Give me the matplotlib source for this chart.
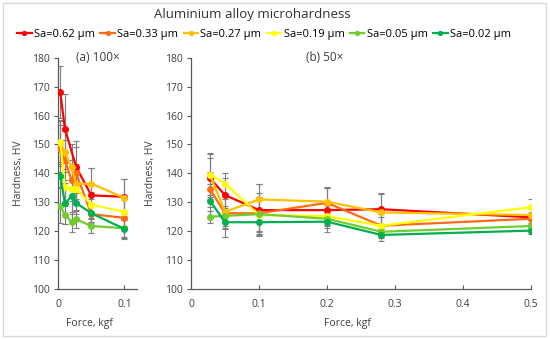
import matplotlib.pyplot as plt
from matplotlib.patches import Rectangle

# series labels and colours
labels = ['Sa=0.62 μm', 'Sa=0.33 μm', 'Sa=0.27 μm', 'Sa=0.19 μm', 'Sa=0.05 μm', 'Sa=0.02 μm']
colors = ['#FF0000', '#FF6A13', '#FFC000', '#FFFF00', '#70CC30', '#00B050']

# (a) 100x
force_a = [0.003, 0.01, 0.02, 0.027, 0.05, 0.1]
force_a_red = [0.003, 0.01, 0.027, 0.05, 0.1]
hv_a_062 = [168.0, 155.5, 142.2, 132.4, 131.9]
hv_a_033 = [148.6, 144.6, 137.6, 140.0, 125.9, 124.6]
hv_a_027 = [150.5, 147.5, 142.1, 136.3, 136.5, 131.5]
hv_a_019 = [151.0, 135.4, 134.5, 134.5, 129.2, 126.7]
hv_a_005 = [128.8, 125.6, 123.3, 124.1, 121.8, 121.0]
hv_a_002 = [139.2, 129.6, 132.1, 129.8, 126.2, 120.8]
err_a_062 = [9.0, 12.0, 9.0, 9.5, 6.0]
err_a_033 = [8.0, 7.0, 7.0, 9.0, 4.0, 7.0]
err_a_027 = [8.0, 7.0, 8.0, 7.0, 5.5, 6.5]
err_a_019 = [7.0, 6.0, 8.0, 7.0, 4.5, 5.0]
err_a_005 = [6.0, 3.0, 3.5, 3.0, 2.5, 3.0]
err_a_002 = [4.0, 7.0, 6.0, 4.0, 3.0, 3.5]

# (b) 50x
force_b = [0.028, 0.05, 0.1, 0.2, 0.28, 0.5]
hv_b_062 = [138.3, 132.5, 127.3, 127.3, 127.6, 124.8]
hv_b_033 = [134.5, 126.2, 126.2, 129.8, 121.9, 124.3]
hv_b_027 = [139.4, 126.7, 131.0, 130.2, 126.5, 125.6]
hv_b_019 = [139.6, 136.5, 125.6, 125.2, 121.9, 128.3]
hv_b_005 = [125.0, 125.3, 125.9, 124.3, 119.8, 121.8]
hv_b_002 = [130.5, 123.1, 123.1, 123.3, 118.7, 120.2]
err_b_062 = [7.0, 6.0, 9.0, 7.5, 5.5, 3.0]
err_b_033 = [6.0, 5.0, 7.0, 5.0, 4.0, 2.5]
err_b_027 = [7.5, 6.0, 5.5, 5.0, 6.5, 3.0]
err_b_019 = [7.0, 3.5, 6.0, 4.0, 3.0, 3.0]
err_b_005 = [2.0, 3.5, 6.0, 2.0, 2.0, 1.0]
err_b_002 = [6.0, 5.0, 4.5, 1.5, 2.0, 1.0]

fa = [force_a_red, force_a, force_a, force_a, force_a, force_a]
ya = [hv_a_062, hv_a_033, hv_a_027, hv_a_019, hv_a_005, hv_a_002]
ea = [err_a_062, err_a_033, err_a_027, err_a_019, err_a_005, err_a_002]
yb = [hv_b_062, hv_b_033, hv_b_027, hv_b_019, hv_b_005, hv_b_002]
eb = [err_b_062, err_b_033, err_b_027, err_b_019, err_b_005, err_b_002]

plt.rcParams['font.family'] = ['Open Sans', 'DejaVu Sans']
fig = plt.figure(figsize=(5.5, 3.39), dpi=100)
fig.patches.append(Rectangle((0.006, 0.009), 0.987, 0.982, transform=fig.transFigure,
                             fill=False, edgecolor='#D9D9D9', linewidth=1))

ax1 = fig.add_axes([0.106, 0.1475, 0.143, 0.682])
ax2 = fig.add_axes([0.3473, 0.1475, 0.618, 0.682])

handles = []
for i in range(6):
    ax1.errorbar(fa[i], ya[i], yerr=ea[i], fmt='none', ecolor='#7F7F7F',
                 elinewidth=0.8, capsize=2, capthick=0.8, zorder=2)
    ax2.errorbar(force_b, yb[i], yerr=eb[i], fmt='none', ecolor='#7F7F7F',
                 elinewidth=0.8, capsize=2, capthick=0.8, zorder=2)
for i in range(6):
    h, = ax1.plot(fa[i], ya[i], '-o', color=colors[i], lw=1.6, ms=4, label=labels[i], zorder=3)
    ax2.plot(force_b, yb[i], '-o', color=colors[i], lw=1.6, ms=4, zorder=3)
    handles.append(h)

for ax in (ax1, ax2):
    ax.set_ylim(100, 180)
    ax.set_yticks(range(100, 181, 10))
    for s in ('top', 'right'):
        ax.spines[s].set_visible(False)
    for s in ('left', 'bottom'):
        ax.spines[s].set_color('#595959')
        ax.spines[s].set_linewidth(0.9)
    ax.tick_params(axis='y', direction='out', length=3, width=0.8, color='#595959',
                   labelsize=7.5, pad=3, labelcolor='#404040')
    ax.tick_params(axis='x', direction='in', length=3, width=0.8, color='#595959',
                   labelsize=7.5, pad=7, labelcolor='#404040')
    ax.set_ylabel('Hardness, HV', fontsize=7.5, color='#404040', labelpad=6)
    ax.set_xlabel('Force, kgf', fontsize=7.5, color='#404040')

ax1.set_xlim(0, 0.119)
ax1.set_xticks([0, 0.1])
ax1.set_xticklabels(['0', '0.1'])
ax2.set_xlim(0, 0.5)
ax2.set_xticks([0, 0.1, 0.2, 0.3, 0.4, 0.5])
ax2.set_xticklabels(['0', '0.1', '0.2', '0.3', '0.4', '0.5'])
ax1.xaxis.set_label_coords(0.40, -0.125)
ax2.xaxis.set_label_coords(0.46, -0.125)

ax1.text(0.5, 1.0, '(a) 100×', transform=ax1.transAxes, ha='center', va='center',
         fontsize=8.5, color='#404040')
ax2.text(0.394, 1.0, '(b) 50×', transform=ax2.transAxes, ha='center', va='center',
         fontsize=8.5, color='#404040')

fig.text(0.458, 0.957, 'Aluminium alloy microhardness', ha='center', va='center',
         fontsize=9.5, color='#303030')
fig.legend(handles=handles, loc='center', bbox_to_anchor=(0.48, 0.898), ncol=6,
           frameon=False, fontsize=8, handlelength=1.3, handletextpad=0.2,
           columnspacing=0.5, markerscale=0.7)

fig.savefig('out.png', dpi=100)
